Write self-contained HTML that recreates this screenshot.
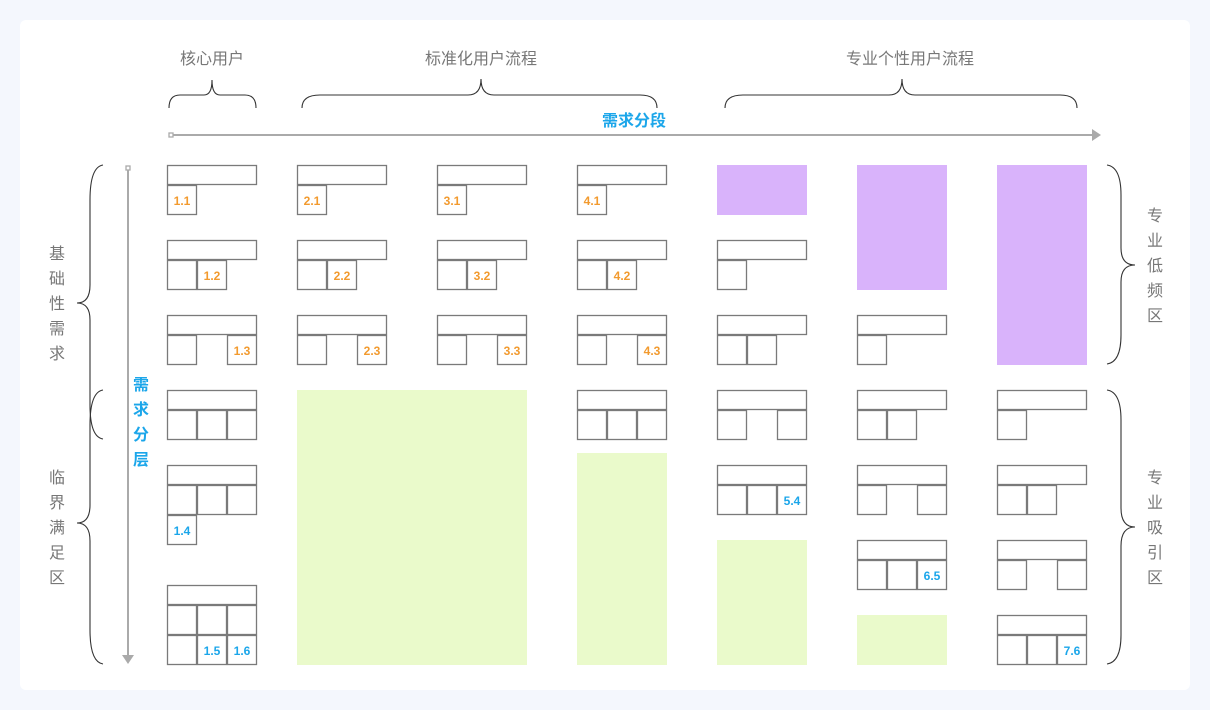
<!DOCTYPE html>
<html><head><meta charset="utf-8"><style>
html,body{margin:0;padding:0;background:#f4f7fd;}
svg{display:block;}
text{font-family:"Liberation Sans","Noto Sans CJK SC",sans-serif;}
.b rect{fill:#fff;stroke:#7a7a7a;stroke-width:1.3;}
.o{fill:#f29a2e;font-size:12px;text-anchor:middle;font-weight:bold;}
.u{fill:#1ba6ea;font-size:12px;text-anchor:middle;font-weight:bold;}
.g{fill:#eafacb;}
.p{fill:#d9b3fb;}
.lbl{fill:#777;font-size:16px;text-anchor:middle;}
.br{fill:none;stroke:#333;stroke-width:1.1;}
</style></head><body>
<svg width="1210" height="710" viewBox="0 0 1210 710">
<rect x="0" y="0" width="1210" height="710" rx="20" fill="#f4f7fd"/>
<rect x="20" y="20" width="1170" height="670" rx="6" fill="#fff"/>

<text class="lbl" x="212" y="64">核心用户</text>
<text class="lbl" x="481" y="64">标准化用户流程</text>
<text class="lbl" x="910" y="64">专业个性用户流程</text>

<path class="br" d="M169,108 Q169,95 180,95 L204,95 Q212,95 212,80 Q212,95 220,95 L245,95 Q256,95 256,108"/>
<path class="br" d="M302,108 Q302,95 320,95 L468,95 Q481,95 481,79 Q481,95 494,95 L640,95 Q657,95 657,108"/>
<path class="br" d="M725,108 Q725,95 743,95 L889,95 Q902,95 902,79 Q902,95 915,95 L1060,95 Q1077,95 1077,108"/>

<line x1="171" y1="135" x2="1096" y2="135" stroke="#aaa" stroke-width="2"/>
<rect x="169" y="133" width="4" height="4" fill="#fff" stroke="#aaa" stroke-width="1.3"/>
<path d="M1092,129 L1101,135 L1092,141 Z" fill="#aaa"/>
<text x="634" y="126" font-size="16" font-weight="bold" fill="#1ba6ea" text-anchor="middle">需求分段</text>

<line x1="128" y1="170" x2="128" y2="658" stroke="#aaa" stroke-width="2"/>
<rect x="126" y="166" width="4" height="4" fill="#fff" stroke="#aaa" stroke-width="1.3"/>
<path d="M122,655 L128,664 L134,655 Z" fill="#aaa"/>
<g font-size="16" font-weight="bold" fill="#1ba6ea" text-anchor="middle">
<text x="141" y="390">需</text><text x="141" y="415">求</text><text x="141" y="440">分</text><text x="141" y="465">层</text>
</g>

<path class="br" d="M103,165 Q90,167 90,200 L90,285 Q90,303 77,303 Q90,303 90,320 L90,405 Q90,437 103,439"/>
<path class="br" d="M103,390 Q90,392 90,425 L90,505 Q90,523 77,523 Q90,523 90,541 L90,630 Q90,662 103,664"/>
<g class="lbl" font-size="16">
<text x="57" y="259">基</text><text x="57" y="284">础</text><text x="57" y="309">性</text><text x="57" y="334">需</text><text x="57" y="359">求</text>
<text x="57" y="483">临</text><text x="57" y="508">界</text><text x="57" y="533">满</text><text x="57" y="558">足</text><text x="57" y="583">区</text>
</g>

<path class="br" d="M1107,165 Q1121,167 1121,195 L1121,248 Q1121,265 1135,265 Q1121,265 1121,282 L1121,335 Q1121,362 1107,364"/>
<path class="br" d="M1107,390 Q1121,392 1121,420 L1121,508 Q1121,527 1135,527 Q1121,527 1121,546 L1121,635 Q1121,662 1107,664"/>
<g class="lbl" font-size="16">
<text x="1155" y="221">专</text><text x="1155" y="246">业</text><text x="1155" y="271">低</text><text x="1155" y="296">频</text><text x="1155" y="321">区</text>
<text x="1155" y="483">专</text><text x="1155" y="508">业</text><text x="1155" y="533">吸</text><text x="1155" y="558">引</text><text x="1155" y="583">区</text>
</g>

<rect class="g" x="297" y="390" width="230" height="275"/>
<rect class="g" x="577" y="453" width="90" height="212"/>
<rect class="g" x="717" y="540" width="90" height="125"/>
<rect class="g" x="857" y="615" width="90" height="50"/>
<rect class="p" x="717" y="165" width="90" height="50"/>
<rect class="p" x="857" y="165" width="90" height="125"/>
<rect class="p" x="997" y="165" width="90" height="200"/>

<g class="b">
<rect x="167.5" y="165.5" width="89" height="19"/><rect x="167.5" y="185.5" width="29" height="29"/>
<rect x="167.5" y="240.5" width="89" height="19"/><rect x="167.5" y="260.5" width="29" height="29"/><rect x="197.5" y="260.5" width="29" height="29"/>
<rect x="167.5" y="315.5" width="89" height="19"/><rect x="167.5" y="335.5" width="29" height="29"/><rect x="227.5" y="335.5" width="29" height="29"/>
<rect x="167.5" y="390.5" width="89" height="19"/><rect x="167.5" y="410.5" width="29" height="29"/><rect x="197.5" y="410.5" width="29" height="29"/><rect x="227.5" y="410.5" width="29" height="29"/>
<rect x="167.5" y="465.5" width="89" height="19"/><rect x="167.5" y="485.5" width="29" height="29"/><rect x="197.5" y="485.5" width="29" height="29"/><rect x="227.5" y="485.5" width="29" height="29"/><rect x="167.5" y="515.5" width="29" height="29"/>
<rect x="167.5" y="585.5" width="89" height="19"/><rect x="167.5" y="605.5" width="29" height="29"/><rect x="197.5" y="605.5" width="29" height="29"/><rect x="227.5" y="605.5" width="29" height="29"/><rect x="167.5" y="635.5" width="29" height="29"/><rect x="197.5" y="635.5" width="29" height="29"/><rect x="227.5" y="635.5" width="29" height="29"/>
<rect x="297.5" y="165.5" width="89" height="19"/><rect x="297.5" y="185.5" width="29" height="29"/>
<rect x="297.5" y="240.5" width="89" height="19"/><rect x="297.5" y="260.5" width="29" height="29"/><rect x="327.5" y="260.5" width="29" height="29"/>
<rect x="297.5" y="315.5" width="89" height="19"/><rect x="297.5" y="335.5" width="29" height="29"/><rect x="357.5" y="335.5" width="29" height="29"/>
<rect x="437.5" y="165.5" width="89" height="19"/><rect x="437.5" y="185.5" width="29" height="29"/>
<rect x="437.5" y="240.5" width="89" height="19"/><rect x="437.5" y="260.5" width="29" height="29"/><rect x="467.5" y="260.5" width="29" height="29"/>
<rect x="437.5" y="315.5" width="89" height="19"/><rect x="437.5" y="335.5" width="29" height="29"/><rect x="497.5" y="335.5" width="29" height="29"/>
<rect x="577.5" y="165.5" width="89" height="19"/><rect x="577.5" y="185.5" width="29" height="29"/>
<rect x="577.5" y="240.5" width="89" height="19"/><rect x="577.5" y="260.5" width="29" height="29"/><rect x="607.5" y="260.5" width="29" height="29"/>
<rect x="577.5" y="315.5" width="89" height="19"/><rect x="577.5" y="335.5" width="29" height="29"/><rect x="637.5" y="335.5" width="29" height="29"/>
<rect x="577.5" y="390.5" width="89" height="19"/><rect x="577.5" y="410.5" width="29" height="29"/><rect x="607.5" y="410.5" width="29" height="29"/><rect x="637.5" y="410.5" width="29" height="29"/>
<rect x="717.5" y="240.5" width="89" height="19"/><rect x="717.5" y="260.5" width="29" height="29"/>
<rect x="717.5" y="315.5" width="89" height="19"/><rect x="717.5" y="335.5" width="29" height="29"/><rect x="747.5" y="335.5" width="29" height="29"/>
<rect x="717.5" y="390.5" width="89" height="19"/><rect x="717.5" y="410.5" width="29" height="29"/><rect x="777.5" y="410.5" width="29" height="29"/>
<rect x="717.5" y="465.5" width="89" height="19"/><rect x="717.5" y="485.5" width="29" height="29"/><rect x="747.5" y="485.5" width="29" height="29"/><rect x="777.5" y="485.5" width="29" height="29"/>
<rect x="857.5" y="315.5" width="89" height="19"/><rect x="857.5" y="335.5" width="29" height="29"/>
<rect x="857.5" y="390.5" width="89" height="19"/><rect x="857.5" y="410.5" width="29" height="29"/><rect x="887.5" y="410.5" width="29" height="29"/>
<rect x="857.5" y="465.5" width="89" height="19"/><rect x="857.5" y="485.5" width="29" height="29"/><rect x="917.5" y="485.5" width="29" height="29"/>
<rect x="857.5" y="540.5" width="89" height="19"/><rect x="857.5" y="560.5" width="29" height="29"/><rect x="887.5" y="560.5" width="29" height="29"/><rect x="917.5" y="560.5" width="29" height="29"/>
<rect x="997.5" y="390.5" width="89" height="19"/><rect x="997.5" y="410.5" width="29" height="29"/>
<rect x="997.5" y="465.5" width="89" height="19"/><rect x="997.5" y="485.5" width="29" height="29"/><rect x="1027.5" y="485.5" width="29" height="29"/>
<rect x="997.5" y="540.5" width="89" height="19"/><rect x="997.5" y="560.5" width="29" height="29"/><rect x="1057.5" y="560.5" width="29" height="29"/>
<rect x="997.5" y="615.5" width="89" height="19"/><rect x="997.5" y="635.5" width="29" height="29"/><rect x="1027.5" y="635.5" width="29" height="29"/><rect x="1057.5" y="635.5" width="29" height="29"/>
</g>

<text class="o" x="182" y="205">1.1</text><text class="o" x="212" y="280">1.2</text><text class="o" x="242" y="355">1.3</text>
<text class="o" x="312" y="205">2.1</text><text class="o" x="342" y="280">2.2</text><text class="o" x="372" y="355">2.3</text>
<text class="o" x="452" y="205">3.1</text><text class="o" x="482" y="280">3.2</text><text class="o" x="512" y="355">3.3</text>
<text class="o" x="592" y="205">4.1</text><text class="o" x="622" y="280">4.2</text><text class="o" x="652" y="355">4.3</text>
<text class="u" x="182" y="535">1.4</text><text class="u" x="212" y="655">1.5</text><text class="u" x="242" y="655">1.6</text>
<text class="u" x="792" y="505">5.4</text><text class="u" x="932" y="580">6.5</text><text class="u" x="1072" y="655">7.6</text>
</svg>
</body></html>
